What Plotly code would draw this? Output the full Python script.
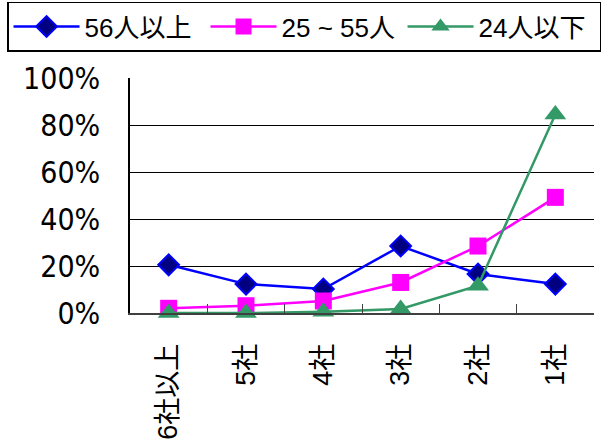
import plotly.graph_objects as go

# Number of companies dealt with, by employee-size group (share of respondents)
categories = ["6社以上", "5社", "4社", "3社", "2社", "1社"]
series_names = ["56人以上", "25 ~ 55人", "24人以下"]
over_56 = [0.205, 0.123, 0.102, 0.285, 0.166, 0.123]
from_25_to_55 = [0.020, 0.031, 0.051, 0.130, 0.285, 0.492]
under_24 = [0.000, 0.000, 0.005, 0.017, 0.116, 0.845]
y_ticks = [0, 0.2, 0.4, 0.6, 0.8, 1.0]
y_tick_labels = ["0%", "20%", "40%", "60%", "80%", "100%"]

styles = [
    dict(line=dict(color="#0000FF", width=2.5),
         marker=dict(symbol="diamond", size=16, color="#000080",
                     line=dict(color="#0000FF", width=2))),
    dict(line=dict(color="#FF00FF", width=2.5),
         marker=dict(symbol="square", size=17, color="#FF00FF",
                     line=dict(color="#FF00FF", width=0))),
    dict(line=dict(color="#339966", width=2.5),
         marker=dict(symbol="triangle-up", size=19, color="#339966",
                     line=dict(color="#339966", width=0))),
]

fig = go.Figure()
for name, values, st in zip(series_names, [over_56, from_25_to_55, under_24], styles):
    fig.add_trace(go.Scatter(x=categories, y=values, name=name,
                             mode="lines+markers", cliponaxis=False, **st))

base_font = "Liberation Sans, Arial, Noto Sans CJK JP, sans-serif"

fig.update_layout(
    width=607, height=448,
    margin=dict(l=130, r=13, t=78, b=135, autoexpand=False),
    paper_bgcolor="white", plot_bgcolor="white",
    font=dict(family=base_font, color="black"),
    showlegend=True,
    legend=dict(orientation="h", x=-0.265, y=1.325, xref="paper", yref="paper",
                xanchor="left", yanchor="top",
                bordercolor="black", borderwidth=1.5, bgcolor="white",
                font=dict(size=26, family=base_font),
                itemwidth=66, tracegroupgap=0,
                entrywidthmode="pixels", entrywidth=116),
)

fig.update_xaxes(
    type="category", range=[-0.5, 5.5],
    showline=True, linecolor="#404040", linewidth=2,
    ticks="inside", tickson="boundaries", ticklen=9, tickcolor="#404040", tickwidth=1,
    tickangle=-90, ticklabelstandoff=18,
    tickfont=dict(size=27, family=base_font),
    showgrid=False, zeroline=False,
)

fig.update_yaxes(
    range=[0, 1.0], tickvals=y_ticks, ticktext=y_tick_labels,
    showline=True, linecolor="black", linewidth=1.5,
    ticks="inside", ticklen=8, tickcolor="black",
    showgrid=True, gridcolor="black", gridwidth=1,
    zeroline=False, ticklabelstandoff=22,
    tickfont=dict(size=30, family="DejaVu Sans Condensed, Liberation Sans Narrow, Liberation Sans, sans-serif"),
)

fig.write_html("out.html")
